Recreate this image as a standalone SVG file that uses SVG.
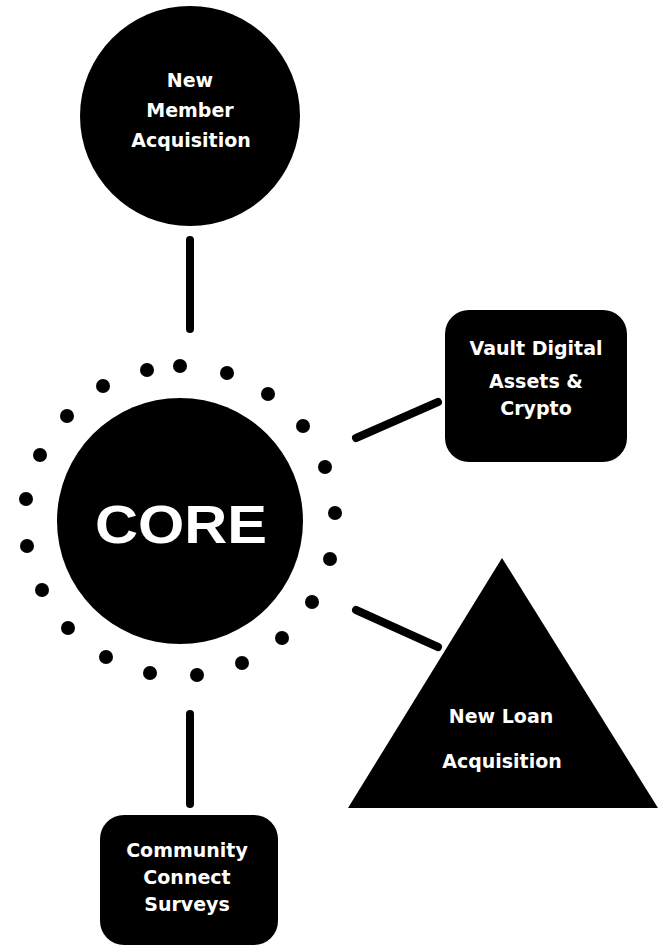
<svg xmlns="http://www.w3.org/2000/svg" width="662" height="947" viewBox="0 0 662 947">
<style>
.shape{fill:#000}
.lbl{fill:#fff;font-family:"DejaVu Sans",sans-serif;font-weight:bold;font-size:19px;text-anchor:middle}
.core{fill:#fff;font-family:"Liberation Sans",Arial,sans-serif;font-weight:bold;font-size:54px;text-anchor:middle}
.conn{stroke:#000;stroke-width:8;stroke-linecap:round;fill:none}
</style>
<rect width="662" height="947" fill="#fff"/>
<g id="connectors">
<line class="conn" x1="190" y1="240" x2="190" y2="329"/>
<line class="conn" x1="356" y1="438" x2="438" y2="402"/>
<line class="conn" x1="356" y1="610" x2="438" y2="647"/>
<line class="conn" x1="190" y1="714" x2="190" y2="804"/>
</g>
<g id="new-member">
<circle class="shape" cx="190" cy="116" r="110"/>
<text class="lbl" x="190" y="87">New</text>
<text class="lbl" x="190" y="117">Member</text>
<text class="lbl" x="191" y="147">Acquisition</text>
</g>
<g id="core">
<circle class="shape" cx="180" cy="521" r="123"/>
<text class="core" x="181" y="543" textLength="172" lengthAdjust="spacingAndGlyphs">CORE</text>
<g class="shape">
<circle cx="103" cy="386" r="7"/><circle cx="147" cy="370" r="7"/><circle cx="180" cy="366" r="7"/>
<circle cx="227" cy="373" r="7"/><circle cx="268" cy="394" r="7"/><circle cx="303" cy="426" r="7"/>
<circle cx="325" cy="467" r="7"/><circle cx="335" cy="513" r="7"/><circle cx="330" cy="559" r="7"/>
<circle cx="312" cy="602" r="7"/><circle cx="282" cy="638" r="7"/><circle cx="242" cy="663" r="7"/>
<circle cx="197" cy="675" r="7"/><circle cx="150" cy="673" r="7"/><circle cx="106" cy="657" r="7"/>
<circle cx="68" cy="628" r="7"/><circle cx="42" cy="590" r="7"/><circle cx="27" cy="546" r="7"/>
<circle cx="26" cy="499" r="7"/><circle cx="40" cy="455" r="7"/><circle cx="67" cy="416" r="7"/>
</g>
</g>
<g id="vault">
<rect class="shape" x="445" y="310" width="182" height="152" rx="24"/>
<text class="lbl" x="536" y="355">Vault Digital</text>
<text class="lbl" x="536" y="388">Assets &amp;</text>
<text class="lbl" x="536" y="415">Crypto</text>
</g>
<g id="new-loan">
<polygon class="shape" points="502,558 658,808 348,808"/>
<text class="lbl" x="501" y="723">New Loan</text>
<text class="lbl" x="502" y="768">Acquisition</text>
</g>
<g id="community">
<rect class="shape" x="100" y="815" width="178" height="130" rx="24"/>
<text class="lbl" x="187" y="857">Community</text>
<text class="lbl" x="187" y="884">Connect</text>
<text class="lbl" x="187" y="911">Surveys</text>
</g>
</svg>
